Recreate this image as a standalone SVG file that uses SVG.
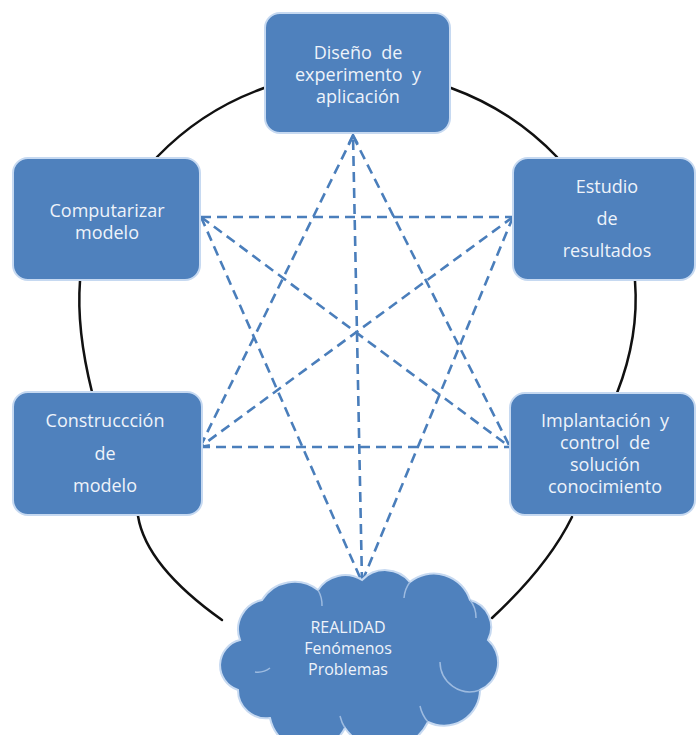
<svg xmlns="http://www.w3.org/2000/svg" width="696" height="735" viewBox="0 0 696 735">
  <style>
    .box { fill: #4f81bd; stroke: #c6d9f1; stroke-width: 2; }
    .cloud { fill: #4f81bd; stroke: #c6d9f1; stroke-width: 2; }
    .crease { fill: none; stroke: #9dbbe0; stroke-width: 1.5; }
    .lbl { font-family: "Open Sans", "Noto Sans", "Liberation Sans", sans-serif; font-size: 18px; fill: #eef3fa; text-anchor: middle; }
    .cl { font-size: 16px; }
    .ring { fill: none; stroke: #111111; stroke-width: 2.5; stroke-linecap: round; }
    .dash { fill: none; stroke: #4a7ebb; stroke-width: 2.6; stroke-dasharray: 10 6; }
  </style>
  <defs>
    <marker id="arr" markerUnits="userSpaceOnUse" viewBox="0 0 12 12" refX="11" refY="6" markerWidth="12" markerHeight="12" orient="auto">
      <path d="M2,1.5 L11,6 L2,10.5" fill="none" stroke="#4a7ebb" stroke-width="2.5"/>
    </marker>
  </defs>
  <rect width="696" height="735" fill="#ffffff"/>

  <g id="connectors">
    <!-- black cycle arcs -->
    <path class="ring" d="M 264 88 A 277 277 0 0 0 157 157"/>
    <path class="ring" d="M 451 88 A 277 277 0 0 1 557 157"/>
    <path class="ring" d="M 80 281 C 77 320, 84 360, 92 392"/>
    <path class="ring" d="M 635 281 C 638 320, 630 360, 617 393"/>
    <path class="ring" d="M 138 516 Q 146 566 222 620"/>
    <path class="ring" d="M 572 517 Q 548 566 492 618"/>
    <!-- dashed links -->
    <line class="dash" x1="201" y1="217" x2="513" y2="217"/>
    <line class="dash" x1="200" y1="447" x2="510" y2="447"/>
    <line class="dash" x1="201" y1="217" x2="510" y2="447"/>
    <line class="dash" x1="513" y1="217" x2="200" y2="447" marker-end="url(#arr)"/>
    <line class="dash" x1="353" y1="136" x2="200" y2="447"/>
    <line class="dash" x1="353" y1="136" x2="510" y2="447"/>
    <line class="dash" x1="362" y1="582" x2="353" y2="135" marker-end="url(#arr)"/>
    <line class="dash" x1="201" y1="217" x2="362" y2="582"/>
    <line class="dash" x1="513" y1="217" x2="362" y2="582"/>
  </g>

  <g id="node-diseno">
    <rect class="box" x="265" y="13" width="185" height="120" rx="15"/>
    <text class="lbl" x="358" y="59" xml:space="preserve">Diseño  de</text>
    <text class="lbl" x="358" y="81" xml:space="preserve">experimento  y</text>
    <text class="lbl" x="358" y="103">aplicación</text>
  </g>

  <g id="node-computarizar">
    <rect class="box" x="13" y="158" width="187" height="122" rx="15"/>
    <text class="lbl" x="107" y="217">Computarizar</text>
    <text class="lbl" x="107" y="239">modelo</text>
  </g>

  <g id="node-estudio">
    <rect class="box" x="513" y="158" width="182" height="122" rx="15"/>
    <text class="lbl" x="607" y="193">Estudio</text>
    <text class="lbl" x="607" y="225">de</text>
    <text class="lbl" x="607" y="257">resultados</text>
  </g>

  <g id="node-construccion">
    <rect class="box" x="13" y="392" width="189" height="123" rx="15"/>
    <text class="lbl" x="105" y="427">Construccción</text>
    <text class="lbl" x="105" y="460">de</text>
    <text class="lbl" x="105" y="492">modelo</text>
  </g>

  <g id="node-implantacion">
    <rect class="box" x="510" y="393" width="185" height="122" rx="15"/>
    <text class="lbl" x="605" y="427" xml:space="preserve">Implantación  y</text>
    <text class="lbl" x="605" y="449" xml:space="preserve">control  de</text>
    <text class="lbl" x="605" y="471">solución</text>
    <text class="lbl" x="605" y="493">conocimiento</text>
  </g>

  <g id="node-realidad">
    <path class="cloud" d="M 240 640 A 30 30 0 0 1 262 600 A 38 38 0 0 1 318 590 A 32 32 0 0 1 362 580 A 32 32 0 0 1 410 582 A 38 38 0 0 1 470 600 A 28 28 0 0 1 488 640 A 30 30 0 0 1 480 690 A 36 36 0 0 1 428 722 A 48 48 0 0 1 345 728 A 40 40 0 0 1 270 718 A 28 28 0 0 1 238 690 A 26 26 0 0 1 240 640 Z"/>
    <path class="crease" d="M 255 672 A 20 20 0 0 0 270 668"/>
    <path class="crease" d="M 318 590 A 30 30 0 0 1 322 606"/>
    <path class="crease" d="M 410 582 A 30 30 0 0 0 404 598"/>
    <path class="crease" d="M 470 600 A 28 28 0 0 1 476 618"/>
    <path class="crease" d="M 480 690 A 30 30 0 0 1 440 662"/>
    <path class="crease" d="M 428 722 A 36 36 0 0 1 420 706"/>
    <path class="crease" d="M 345 728 A 40 40 0 0 1 340 716"/>
    <text class="lbl cl" x="348" y="632.5">REALIDAD</text>
    <text class="lbl cl" x="348" y="653.5">Fenómenos</text>
    <text class="lbl cl" x="348" y="674.5">Problemas</text>
  </g>
</svg>
